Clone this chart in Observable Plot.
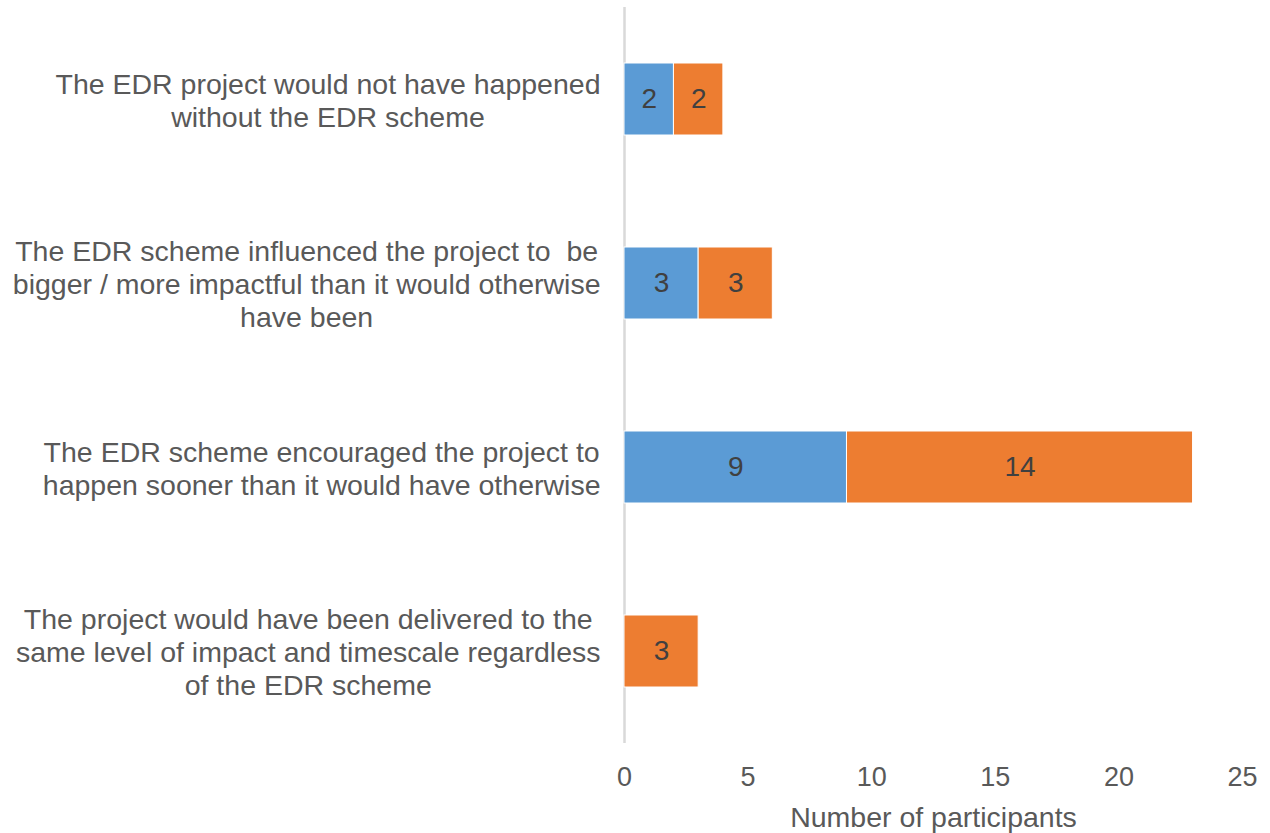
<!DOCTYPE html>
<html>
<head>
<meta charset="utf-8">
<script src="https://cdn.jsdelivr.net/npm/d3@7"></script>
<script src="https://cdn.jsdelivr.net/npm/@observablehq/plot@0.6"></script>
<style>
  html, body { margin: 0; padding: 0; background: #fff; }
  #chart svg { font-family: "Liberation Sans", Arial, sans-serif; }
</style>
</head>
<body>
<div id="chart"></div>
<script>
const categories = [
  "The EDR project would not have happened\nwithout the EDR scheme",
  "The EDR scheme influenced the project to  be\nbigger / more impactful than it would otherwise\nhave been",
  "The EDR scheme encouraged the project to\nhappen sooner than it would have otherwise",
  "The project would have been delivered to the\nsame level of impact and timescale regardless\nof the EDR scheme"
];
const seriesNames = ["Series 1", "Series 2"];
const series1Values = [2, 3, 9, 0];
const series2Values = [2, 3, 14, 3];
const seriesColors = ["#5B9BD5", "#ED7D31"];
const xTicks = [0, 5, 10, 15, 20, 25];
const xLabel = "Number of participants";

const data = [];
categories.forEach((c, i) => {
  data.push({category: c, series: seriesNames[0], value: series1Values[i]});
  data.push({category: c, series: seriesNames[1], value: series2Values[i]});
});

const chart = Plot.plot({
  width: 1270,
  height: 833,
  marginLeft: 624,
  marginRight: 28,
  marginTop: 7,
  marginBottom: 90,
  style: {fontFamily: '"Liberation Sans", Arial, sans-serif', color: "#595959", background: "#fff"},
  x: {domain: [0, 25]},
  y: {domain: categories, padding: 0},
  color: {domain: seriesNames, range: seriesColors},
  marks: [
    Plot.ruleX([0], {stroke: "#d9d9d9", strokeWidth: 2.5}),
    Plot.barX(data, {
      x: "value", y: "category", fill: "series",
      insetTop: 56, insetBottom: 56,
      stroke: "#fff", strokeWidth: 1
    }),
    Plot.text(data, Plot.stackX({
      x: "value", y: "category", z: "series",
      filter: d => d.value > 0,
      text: d => String(d.value),
      fill: "#404040", fontSize: 28
    })),
    Plot.axisX({
      ticks: xTicks, tickSize: 0, tickPadding: 23, fontSize: 27,
      label: null, fill: "#595959"
    }),
    Plot.text([xLabel], {
      frameAnchor: "bottom", dy: 74, lineAnchor: "middle",
      fontSize: 28.5, fill: "#595959"
    }),
    Plot.axisY({
      tickSize: 0, tickPadding: 24, fontSize: 28.5, lineHeight: 1.16,
      textAnchor: "end", label: null, fill: "#595959", textOverflow: null, lineWidth: Infinity
    })
  ]
});

document.getElementById("chart").append(chart);

// center the lines of each category label within its block (block right-aligned)
chart.querySelectorAll('g[aria-label="y-axis tick label"] text').forEach(t => {
  const spans = Array.from(t.querySelectorAll("tspan"));
  if (!spans.length) return;
  const w = Math.max(...spans.map(s => s.getComputedTextLength()));
  t.setAttribute("text-anchor", "middle");
  spans.forEach(s => {
    const x0 = parseFloat(s.getAttribute("x")) || 0;
    s.setAttribute("x", x0 - w / 2);
  });
});
</script>
</body>
</html>
